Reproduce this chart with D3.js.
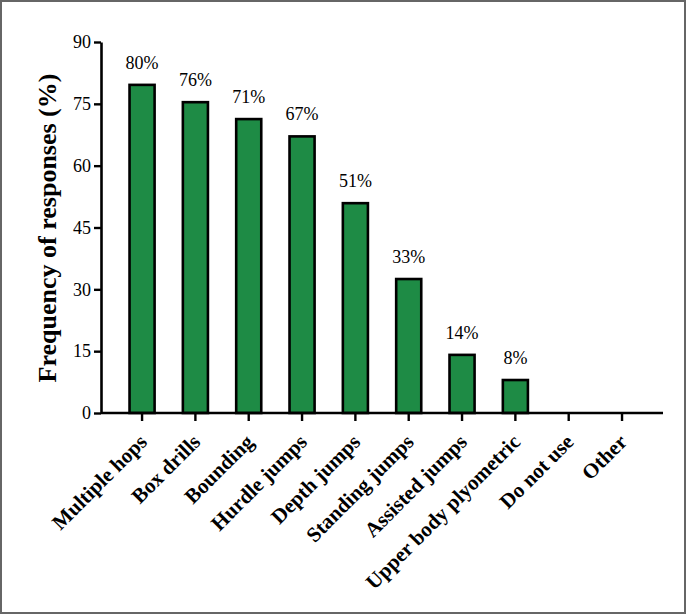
<!DOCTYPE html>
<html><head><meta charset="utf-8">
<script src="https://cdn.jsdelivr.net/npm/d3@7"></script>
<style>html,body{margin:0;padding:0;background:#fff;}svg{display:block;} text{font-family:"Liberation Serif","Times New Roman",serif;}</style>
</head><body>
<script>
const categories = ["Multiple hops","Box drills","Bounding","Hurdle jumps","Depth jumps","Standing jumps","Assisted jumps","Upper body plyometric","Do not use","Other"];
const values = [79.6, 75.4, 71.3, 67.1, 50.9, 32.5, 14.1, 8.0, 0, 0];
const valueLabels = ["80%","76%","71%","67%","51%","33%","14%","8%","",""];
const yTicks = [0, 15, 30, 45, 60, 75, 90];

const W = 687, H = 615;
const svg = d3.select("body").append("svg").attr("width", W).attr("height", H);
const serif = '"Liberation Serif","Times New Roman",serif';

svg.append("rect").attr("x",1).attr("y",1).attr("width",684).attr("height",612)
  .attr("fill","#fff").attr("stroke","#666").attr("stroke-width",2);

const y = d3.scaleLinear().domain([0,90]).range([413,42]);
const x = d3.scaleBand().domain(categories).range([115.4,648.7]).paddingInner(0.53).paddingOuter(0.265);

const rows = values.map((v,i)=>({c:categories[i],v:v,l:valueLabels[i]}));

// bars
svg.append("g").selectAll("rect").data(rows.filter(d=>d.v>0))
  .join("rect")
  .attr("x",d=>x(d.c)).attr("width",x.bandwidth())
  .attr("y",d=>y(d.v)).attr("height",d=>y(0)-y(d.v))
  .attr("fill","#1e8b45").attr("stroke","#000").attr("stroke-width",2.6);

// value labels
svg.append("g").selectAll("text").data(rows.filter(d=>d.l))
  .join("text")
  .attr("x",d=>x(d.c)+x.bandwidth()/2).attr("y",d=>y(d.v)-16)
  .attr("text-anchor","middle").style("font-family",serif).style("font-size","18px").attr("fill","#000")
  .text(d=>d.l);

// y axis
const yAxis = svg.append("g").attr("transform","translate(101,0)")
  .call(d3.axisLeft(y).tickValues(yTicks).tickSize(7).tickPadding(3).tickSizeOuter(0));
yAxis.attr("font-family",null).attr("font-size",null);
yAxis.select(".domain").attr("stroke","#000").attr("stroke-width",2.6);
yAxis.selectAll(".tick line").attr("stroke","#000").attr("stroke-width",2.4);
yAxis.selectAll(".tick text").style("font-family",serif).style("font-size","18px").attr("fill","#000");

// x axis
const xAxis = svg.append("g").attr("transform","translate(0,413)")
  .call(d3.axisBottom(x).tickSize(8).tickSizeOuter(0));
xAxis.attr("font-family",null).attr("font-size",null);
xAxis.select(".domain").attr("d","M101,0H663").attr("stroke","#000").attr("stroke-width",2.6);
xAxis.selectAll(".tick line").attr("stroke","#000").attr("stroke-width",2.4);
xAxis.selectAll(".tick text")
  .style("font-family",serif).style("font-size","21px").style("font-weight","bold").attr("fill","#000")
  .attr("text-anchor","end").attr("y",0).attr("dy","0.35em")
  .attr("transform","translate(1,25) rotate(-45)");

// y axis title
svg.append("text").attr("transform","translate(56,228) rotate(-90)")
  .attr("text-anchor","middle").style("font-family",serif).style("font-size","26px").style("font-weight","bold")
  .attr("fill","#000").text("Frequency of responses (%)");
</script>
</body></html>
